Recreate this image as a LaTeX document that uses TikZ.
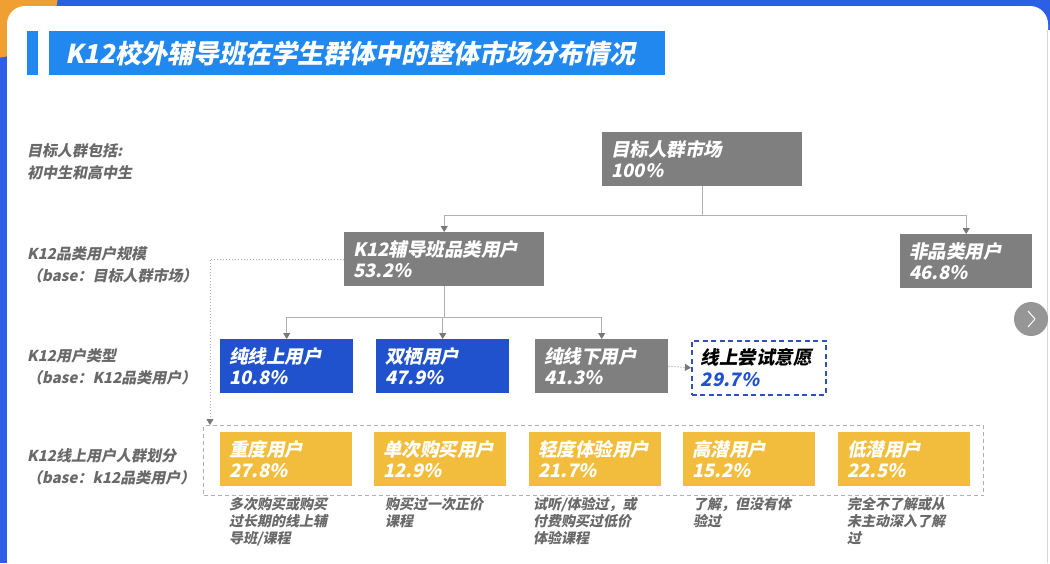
\documentclass[tikz,border=0pt]{standalone}
\usepackage{fontspec}
\setmainfont{Noto Sans CJK SC}[FakeSlant=0.2]
\usetikzlibrary{arrows.meta}
\definecolor{bgblue}{RGB}{45,95,230}
\definecolor{titleblue}{RGB}{32,136,238}
\definecolor{boxgray}{RGB}{127,127,127}
\definecolor{boxblue}{RGB}{33,82,206}
\definecolor{boxyellow}{RGB}{242,189,60}
\definecolor{labelgray}{RGB}{105,105,105}
\definecolor{linegray}{RGB}{175,175,175}
\definecolor{tipgray}{RGB}{120,120,120}
\definecolor{dashblue}{RGB}{48,80,190}
\definecolor{orangeblob}{RGB}{240,160,50}
\definecolor{btngray}{RGB}{150,150,150}
\tikzset{
  databox/.style={anchor=north west, minimum height=54, inner xsep=9, inner ysep=0,
    text width=#1, align=left, text=white,
    font=\bfseries\fontsize{18.5}{21.5}\selectfont},
  graybox/.style={databox=#1, fill=boxgray},
  bluebox/.style={databox=#1, fill=boxblue},
  yellowbox/.style={databox=#1, fill=boxyellow},
  sidelabel/.style={anchor=west, align=left, text=labelgray, inner sep=0,
    font=\bfseries\fontsize{15}{22}\selectfont},
  desc/.style={anchor=north west, align=left, text=labelgray, inner sep=0,
    font=\bfseries\fontsize{14}{17}\selectfont},
  conn/.style={draw=linegray, line width=1},
  dotconn/.style={draw=linegray, line width=1, dash pattern=on 1.2 off 1.8},
  tip/.style={-{Triangle[length=6,width=7,color=tipgray,fill=tipgray]}},
}
\begin{document}
\begin{tikzpicture}[x=1pt,y=-1pt]
\useasboundingbox (0,0) rectangle (1050,563);
% background frame
\fill[bgblue] (0,0) rectangle (1050,563);
\fill[orangeblob] (-8,-8) circle (66);
\fill[white, rounded corners=18] (7,6) rectangle (1048,640);
\fill[white] (1040,30) rectangle (1050,563);
\draw[linegray!50, line width=0.8] (1047,30) -- (1047,563);

% title
\fill[titleblue] (27,31) rectangle (38,75);
\node[fill=titleblue, anchor=north west, minimum width=616, minimum height=44, inner sep=0]
  (title) at (49,31) {};
\node[anchor=west, inner sep=0, text=white, font=\bfseries\fontsize{26}{30}\selectfont]
  (titletext) at ([xshift=16]title.west) {K12校外辅导班在学生群体中的整体市场分布情况};

% side labels
\node[sidelabel] (l1) at (27,162) {目标人群包括:\\初中生和高中生};
\node[sidelabel] (l2) at (27,265) {K12品类用户规模\\（base：目标人群市场）};
\node[sidelabel] (l3) at (27,367) {K12用户类型\\（base：K12品类用户）};
\node[sidelabel] (l4) at (27,467) {K12线上用户人群划分\\（base：k12品类用户）};

% level boxes
\node[graybox=182] (root) at (602,132) {目标人群市场\\100\%};
\node[graybox=182] (k12) at (344,232) {K12辅导班品类用户\\53.2\%};
\node[graybox=114] (non) at (900,234) {非品类用户\\46.8\%};

\node[bluebox=115] (on) at (220,339) {纯线上用户\\10.8\%};
\node[bluebox=115] (dual) at (376,339) {双栖用户\\47.9\%};
\node[graybox=115] (off) at (535,339) {纯线下用户\\41.3\%};
\node[databox=116, text=black, draw=dashblue, line width=1.6, dash pattern=on 5 off 3.5,
  minimum height=54] (try) at (691,340) {线上尝试意愿\\\textcolor{boxblue}{29.7\%}};

% online user group
\node[draw=linegray, line width=1, dash pattern=on 4 off 3, anchor=north west,
  minimum width=780, minimum height=70, inner sep=0] (grp) at (203,425) {};
\node[yellowbox=114] (y1) at (220,432) {重度用户\\27.8\%};
\node[yellowbox=114] (y2) at (374,432) {单次购买用户\\12.9\%};
\node[yellowbox=114] (y3) at (529,432) {轻度体验用户\\21.7\%};
\node[yellowbox=114] (y4) at (683,432) {高潜用户\\15.2\%};
\node[yellowbox=114] (y5) at (838,432) {低潜用户\\22.5\%};

\node[desc] (d1) at ([shift={(9,11)}]y1.south west) {多次购买或购买\\过长期的线上辅\\导班/课程};
\node[desc] (d2) at ([shift={(11,11)}]y2.south west) {购买过一次正价\\课程};
\node[desc] (d3) at ([shift={(4,11)}]y3.south west) {试听/体验过，或\\付费购买过低价\\体验课程};
\node[desc] (d4) at ([shift={(10,11)}]y4.south west) {了解，但没有体\\验过};
\node[desc] (d5) at ([shift={(9,11)}]y5.south west) {完全不了解或从\\未主动深入了解\\过};

% connectors
\draw[conn] (root.south) -- ++(0,29) coordinate (j1);
\draw[conn, tip] (j1) -| (k12.north);
\draw[conn, tip] (j1) -| (non.north);
\draw[conn] (k12.south) -- ++(0,31) coordinate (j2);
\draw[conn, tip] (j2) -| (on.north);
\draw[conn, tip] (j2) -| (dual.north);
\draw[conn, tip] (j2) -| (off.north);
\draw[dotconn, tip] (off.east) -- (try.west);
\draw[dotconn, tip] (k12.west) -| ([xshift=7]grp.north west);

% next button
\node[circle, fill=btngray, minimum size=34, inner sep=0] (nxt) at (1031,319) {};
\draw[white, line width=1] ([shift={(-3,-8)}]nxt.center) -- ([shift={(4,0)}]nxt.center) -- ([shift={(-3,8)}]nxt.center);
\end{tikzpicture}
\end{document}
